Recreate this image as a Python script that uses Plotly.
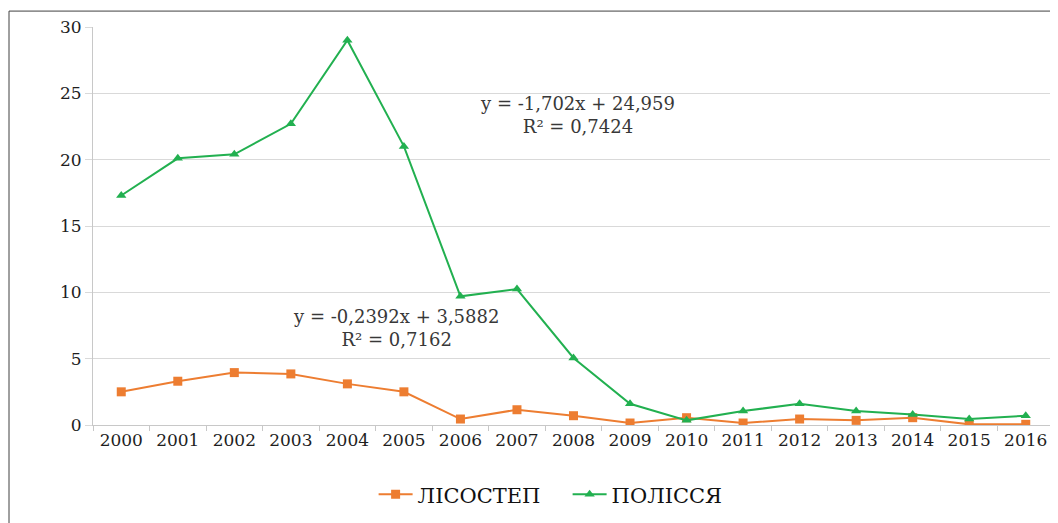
import plotly.graph_objects as go

years = [str(y) for y in range(2000, 2017)]
lisostep = [2.5, 3.3, 3.95, 3.85, 3.1, 2.5, 0.45, 1.15, 0.7, 0.15, 0.55, 0.15, 0.45, 0.35, 0.55, 0.05, 0.05]
polissia = [17.3, 20.1, 20.4, 22.7, 29.0, 21.0, 9.7, 10.25, 5.05, 1.6, 0.35, 1.05, 1.6, 1.05, 0.8, 0.45, 0.7]
series_names = ["ЛІСОСТЕП", "ПОЛІССЯ"]
eq_polissia = "y = -1,702x + 24,959<br>R² = 0,7424"
eq_lisostep = "y = -0,2392x + 3,5882<br>R² = 0,7162"

FONT = "DejaVu Serif"

fig = go.Figure()
fig.add_trace(go.Scatter(x=years, y=lisostep, name=series_names[0], mode="lines+markers",
                         line=dict(color="#ED7D31", width=2),
                         marker=dict(symbol="square", size=9, color="#ED7D31")))
fig.add_trace(go.Scatter(x=years, y=polissia, name=series_names[1], mode="lines+markers",
                         line=dict(color="#22B050", width=2),
                         marker=dict(symbol="triangle-up", size=9, color="#22B050")))

fig.add_annotation(x=0.504, y=23.4, xref="paper", yref="y", xanchor="center", text=eq_polissia,
                   showarrow=False, font=dict(family=FONT, size=18, color="#383838"), align="center")
fig.add_annotation(x=0.315, y=7.3, xref="paper", yref="y", xanchor="center", text=eq_lisostep,
                   showarrow=False, font=dict(family=FONT, size=18, color="#383838"), align="center")

fig.add_shape(type="rect", xref="paper", yref="paper", x0=-0.0874, x1=1.0015, y0=-0.26, y1=1.040,
              line=dict(color="#404040", width=1), fillcolor="rgba(0,0,0,0)")

fig.update_layout(
    width=1050, height=515,
    margin=dict(l=85, r=4, t=19, b=98),
    paper_bgcolor="white", plot_bgcolor="white",
    font=dict(family=FONT, size=17, color="#1e1e1e"),
    showlegend=True,
    legend=dict(orientation="h", x=0.292, xanchor="left", y=-0.175, yanchor="middle",
                font=dict(family=FONT, size=21, color="#111111"), itemwidth=34,
                entrywidth=145),
)
fig.update_xaxes(type="category", range=[-0.5, 16.5], showgrid=False, showline=True,
                 linecolor="#c8c8c8", linewidth=1,
                 ticks="outside", tickson="boundaries", ticklen=5, tickcolor="#c8c8c8",
                 tickfont=dict(family=FONT, size=17, color="#1e1e1e"))
fig.update_yaxes(range=[0, 30], dtick=5, showgrid=True, gridcolor="#d9d9d9", gridwidth=1,
                 showline=True, linecolor="#c8c8c8", linewidth=1, zeroline=False,
                 ticks="outside", ticklen=7, tickcolor="#d9d9d9",
                 tickfont=dict(family=FONT, size=17, color="#1e1e1e"))

fig.write_html("out.html")
